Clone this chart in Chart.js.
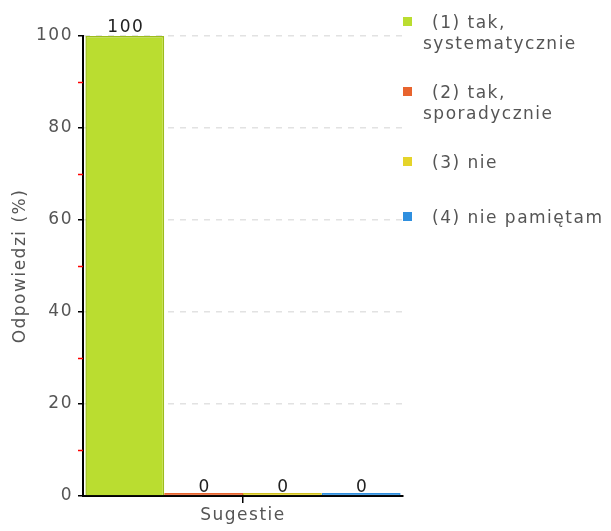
<!DOCTYPE html>
<html>
<head>
<meta charset="utf-8">
<script src="https://cdn.jsdelivr.net/npm/chart.js@4/dist/chart.umd.min.js"></script>
<style>
  body { margin: 0; background: #fff; }
  #wrap { position: relative; width: 611px; height: 531px; }
  #legend { position: absolute; left: 403px; top: 0; font: 17px "DejaVu Sans", sans-serif; color: #555; letter-spacing: 1.5px; }
  .item { position: absolute; left: 0; white-space: nowrap; line-height: 20px; }
  .box { position: absolute; left: 0; top: 5px; width: 9px; height: 9px; }
  .txt { position: absolute; left: 29px; top: 0; }
  .txt2 { position: absolute; left: 20px; top: 21px; }
</style>
</head>
<body>
<div id="wrap">
  <canvas id="myChart" width="611" height="531"></canvas>
  <div id="legend"></div>
</div>
<script>
let categories = ['Sugestie']
let seriesNames = [['(1) tak,', 'systematycznie'], ['(2) tak,', 'sporadycznie'], ['(3) nie'], ['(4) nie pamiętam']]
let seriesValues = [[100], [0], [0], [0]]
let colorHex = ['#badd30', '#e8642e', '#e5d42a', '#2f8fdf']
let borderHex = ['#9cbc1c', '#e8642e', '#cfc01e', '#2f8fdf']
let yTicks = [0, 20, 40, 60, 80, 100]
let minorTicks = [10, 30, 50, 70, 90]

let font = '"DejaVu Sans", sans-serif'

// canvas text spacing like the original
let spacing = {
    id: 'spacing',
    beforeLayout(chart) { chart.ctx.letterSpacing = '1.5px' },
    beforeDraw(chart) { chart.ctx.letterSpacing = '1.5px' },
}

let valueLabels = {
    id: 'valueLabels',
    afterDatasetsDraw(chart) {
        let ctx = chart.ctx
        let y = chart.scales.y
        ctx.save()
        ctx.font = '17px ' + font
        ctx.fillStyle = '#222'
        ctx.textAlign = 'center'
        ctx.textBaseline = 'alphabetic'
        chart.data.datasets.forEach((ds, i) => {
            chart.getDatasetMeta(i).data.forEach((bar, j) => {
                ctx.fillText(String(ds.data[j]), bar.x + 1, y.getPixelForValue(ds.data[j]) - 4)
            })
        })
        ctx.restore()
    },
}

let minorTickPlugin = {
    id: 'minorTicks',
    afterDraw(chart) {
        let ctx = chart.ctx
        let y = chart.scales.y
        ctx.save()
        ctx.strokeStyle = '#ff0000'
        ctx.lineWidth = 1.5
        minorTicks.forEach((v) => {
            let py = Math.round(y.getPixelForValue(v)) + 0.5
            ctx.beginPath()
            ctx.moveTo(y.right - 5, py)
            ctx.lineTo(y.right, py)
            ctx.stroke()
        })
        ctx.restore()
    },
}

let ctx = document.getElementById('myChart').getContext('2d')

let myChart = new Chart(ctx, {
    type: 'bar',
    data: {
        labels: categories,
        datasets: seriesValues.map((vals, i) => ({
            label: seriesNames[i].join(' '),
            data: vals,
            backgroundColor: colorHex[i],
            borderColor: borderHex[i],
            borderWidth: 1.5,
            minBarLength: 3,
            categoryPercentage: 0.985,
            barPercentage: 1,
        })),
    },
    options: {
        responsive: false,
        animation: false,
        layout: { padding: { top: 36, right: 208, left: 0, bottom: 0 } },
        plugins: {
            legend: { display: false },
            tooltip: { enabled: false },
        },
        scales: {
            x: {
                offset: true,
                grid: { offset: false, color: 'rgba(0,0,0,0)', tickColor: '#000', tickLength: 7, lineWidth: 1.5 },
                border: { color: '#000', width: 2 },
                ticks: { color: '#555', font: { family: font, size: 17 }, padding: 2 },
                afterFit(scale) { scale.height = 35 },
            },
            y: {
                min: 0,
                max: 100,
                afterBuildTicks(scale) { scale.ticks = yTicks.map((v) => ({ value: v })) },
                grid: { color: '#e2e2e2', tickColor: '#000', tickLength: 5, lineWidth: 1.5 },
                border: { color: '#000', width: 2, dash: [6, 6] },
                ticks: { color: '#555', font: { family: font, size: 17 }, padding: 5 },
                title: { display: true, text: 'Odpowiedzi (%)', color: '#555', font: { family: font, size: 17 }, padding: { top: 10, bottom: 0 } },
                afterFit(scale) { scale.width = 83 },
            },
        },
    },
    plugins: [spacing, valueLabels, minorTickPlugin],
})

// html legend
let legendTops = [12, 82, 152, 207]
let legend = document.getElementById('legend')
seriesNames.forEach((name, i) => {
    let item = document.createElement('div')
    item.className = 'item'
    item.style.top = legendTops[i] + 'px'
    item.innerHTML = '<div class="box" style="background:' + colorHex[i] + '"></div>' +
        '<div class="txt">' + name[0] + '</div>' +
        (name[1] ? '<div class="txt2">' + name[1] + '</div>' : '')
    legend.appendChild(item)
})
</script>
</body>
</html>
